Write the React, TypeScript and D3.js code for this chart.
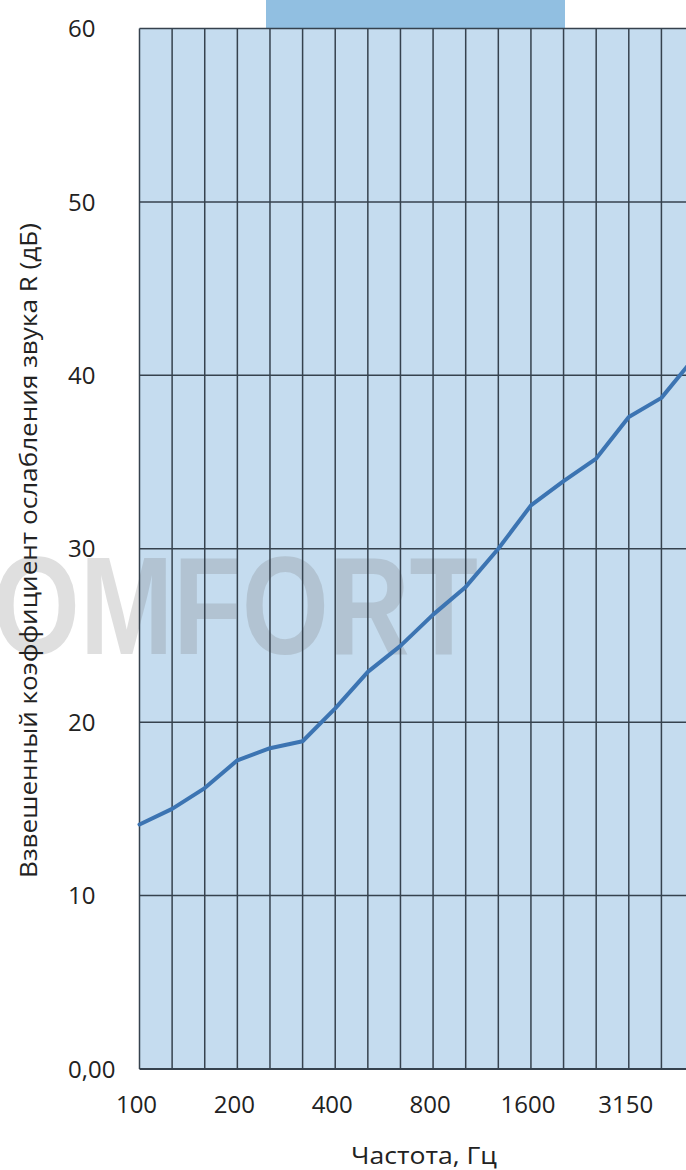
import React from "react";
import * as d3 from "d3";

const frequencies = ["100", "125", "160", "200", "250", "315", "400", "500", "630", "800", "1000", "1250", "1600", "2000", "2500", "3150", "4000", "5000"];
const reduction = [14.1, 15.0, 16.2, 17.8, 18.5, 18.9, 20.8, 22.9, 24.4, 26.2, 27.8, 30.0, 32.5, 33.9, 35.2, 37.6, 38.7, 41.0];
const xTickLabels = ["100", "200", "400", "800", "1600", "3150"];
const yTicks = [0, 10, 20, 30, 40, 50, 60];
const yTickLabels = ["0,00", "10", "20", "30", "40", "50", "60"];
const yTitle = "Взвешенный коэффициент ослабления звука R (дБ)";
const xTitle = "Частота, Гц";
const watermark = "COMFORT";

const W = 686;
const H = 1170;

export default function App() {
  const x = d3.scalePoint<string>().domain(frequencies).range([139.5, 139.5 + 17 * 32.62]);
  const y = d3.scaleLinear().domain([0, 60]).range([1069, 28.5]);
  const left = x("100")!;
  const right = x("5000")!;
  const line = d3
    .line<number>()
    .x((_, i) => x(frequencies[i])!)
    .y((d) => y(d));
  const gridColor = "#36424e";
  const font = "'Open Sans', 'Liberation Sans', Arial, sans-serif";

  return (
    <svg
      width={W}
      height={H}
      style={{ position: "absolute", left: 0, top: 0, display: "block", background: "#fff" }}
      fontFamily={font}
    >
      <defs>
        <clipPath id="plotclip">
          <rect x={0} y={0} width={W} height={H} />
        </clipPath>
      </defs>
      {/* top tab */}
      <rect x={266} y={0} width={299} height={y(60)} fill="#91bfe1" />
      {/* plot background */}
      <rect x={left} y={y(60)} width={right - left} height={y(0) - y(60)} fill="#c5dcef" />
      {/* watermark */}
      <text
        x={-88}
        y={654}
        fontFamily="'Liberation Sans', Arial, sans-serif"
        fontWeight="bold"
        fontSize={140}
        fill="#707070"
        opacity={0.22}
        textLength={566}
        lengthAdjust="spacingAndGlyphs"
      >
        {watermark}
      </text>
      {/* vertical grid */}
      {frequencies.map((f) => (
        <line key={f} x1={x(f)} x2={x(f)} y1={y(60)} y2={y(0)} stroke={gridColor} strokeWidth={1.5} />
      ))}
      {/* horizontal grid */}
      {yTicks.map((t) => (
        <line
          key={t}
          x1={left}
          x2={right}
          y1={y(t)}
          y2={y(t)}
          stroke={gridColor}
          strokeWidth={t === 0 ? 2 : 1.5}
        />
      ))}
      {/* data line */}
      <path
        d={line(reduction) || ""}
        fill="none"
        stroke="#3c74b2"
        strokeWidth={4}
        strokeLinejoin="round"
        strokeLinecap="round"
        clipPath="url(#plotclip)"
      />
      {/* y tick labels */}
      {yTicks.map((t, i) => (
        <text key={t} x={68} y={y(t)} dy="0.36em" fontSize={24} fill="#222">
          {yTickLabels[i]}
        </text>
      ))}
      {/* x tick labels */}
      {xTickLabels.map((f) => (
        <text key={f} x={x(f)! - 3} y={1113} textAnchor="middle" fontSize={24} fill="#222">
          {f}
        </text>
      ))}
      {/* axis titles */}
      <text x={424} y={1164} textAnchor="middle" fontSize={24} fill="#222" textLength={146} lengthAdjust="spacingAndGlyphs">
        {xTitle}
      </text>
      <text
        transform={`translate(37, ${(223 + 878) / 2}) rotate(-90)`}
        textAnchor="middle"
        fontSize={23}
        fill="#222"
        textLength={655}
        lengthAdjust="spacingAndGlyphs"
      >
        {yTitle}
      </text>
    </svg>
  );
}
